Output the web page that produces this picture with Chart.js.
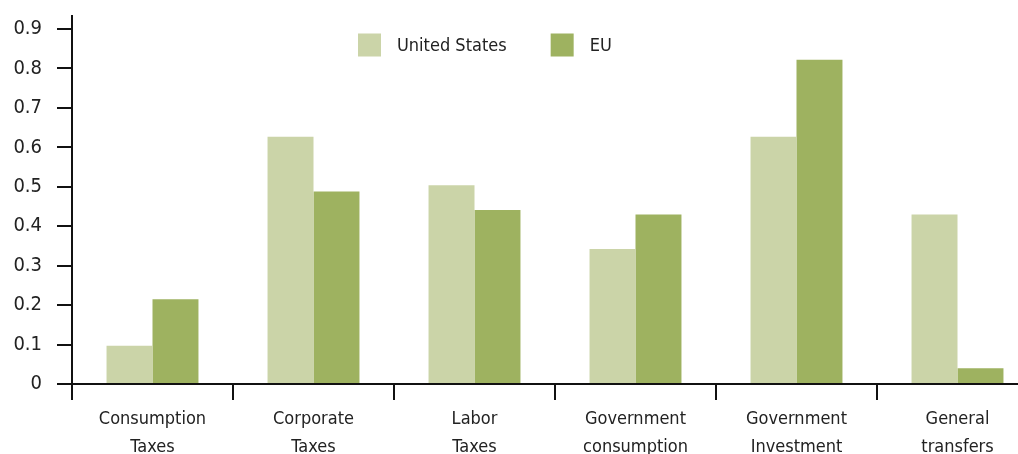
<!DOCTYPE html>
<html>
<head>
<meta charset="utf-8">
<script src="https://cdn.jsdelivr.net/npm/chart.js@4.4.0/dist/chart.umd.min.js"></script>
<style>
html,body{margin:0;padding:0;background:#fff;overflow:hidden;width:1018px;height:454px}
#wrap{width:1040px;height:454px;position:relative}
</style>
</head>
<body>
<div id="wrap"><canvas id="c" width="1040" height="454"></canvas></div>
<script>
// ---- data ----
const categories = [
  ['Consumption', 'Taxes'],
  ['Corporate', 'Taxes'],
  ['Labor', 'Taxes'],
  ['Government', 'consumption'],
  ['Government', 'Investment'],
  ['General', 'transfers']
];
const seriesNames = ['United States', 'EU'];
const usValues = [0.097, 0.627, 0.504, 0.342, 0.627, 0.43];
const euValues = [0.215, 0.488, 0.441, 0.43, 0.822, 0.04];
const yTickValues = [0, 0.1, 0.2, 0.3, 0.4, 0.5, 0.6, 0.7, 0.8, 0.9];
const yTickLabels = ['0', '0.1', '0.2', '0.3', '0.4', '0.5', '0.6', '0.7', '0.8', '0.9'];

// ---- style ----
const FONT = "'Liberation Sans Narrow','Arial Narrow','DejaVu Sans Condensed',sans-serif";
const TEXT = '#222222';
const AXIS = '#111111';
const US_COLOR = '#CBD4A8';
const EU_COLOR = '#9EB260';

const customLegend = {
  id: 'customLegend',
  afterDraw(chart) {
    const ctx = chart.ctx;
    ctx.save();
    ctx.font = '18px ' + FONT;
    ctx.textBaseline = 'middle';
    ctx.textAlign = 'left';
    let x = 358;
    const y = 45;
    const box = 23;
    chart.data.datasets.forEach(ds => {
      ctx.fillStyle = ds.backgroundColor;
      ctx.fillRect(x, y - box / 2, box, box);
      x += box + 16;
      ctx.fillStyle = TEXT;
      ctx.fillText(ds.label, x, y + 1);
      x += ctx.measureText(ds.label).width + 44;
    });
    ctx.restore();
  }
};

new Chart(document.getElementById('c'), {
  type: 'bar',
  data: {
    labels: categories,
    datasets: [
      { label: seriesNames[0], data: usValues, backgroundColor: US_COLOR, borderWidth: 0 },
      { label: seriesNames[1], data: euValues, backgroundColor: EU_COLOR, borderWidth: 0 }
    ]
  },
  options: {
    responsive: false,
    animation: false,
    devicePixelRatio: 1,
    layout: { padding: { top: 16, right: 2, left: 0, bottom: 0 } },
    categoryPercentage: 0.571,
    barPercentage: 1.0,
    plugins: {
      legend: { display: false },
      tooltip: { enabled: false },
      title: { display: false }
    },
    scales: {
      x: {
        offset: true,
        grid: {
          display: true,
          drawOnChartArea: false,
          drawTicks: true,
          offset: true,
          tickLength: 16,
          color: AXIS,
          lineWidth: 2
        },
        border: { display: true, color: AXIS, width: 2 },
        ticks: {
          color: TEXT,
          font: { family: FONT, size: 18, lineHeight: 1.55 },
          padding: 5,
          maxRotation: 0,
          minRotation: 0,
          autoSkip: false
        },
        afterFit(scale) { scale.height = 70; }
      },
      y: {
        min: 0,
        max: 0.933,
        afterBuildTicks(scale) { scale.ticks = yTickValues.map(v => ({ value: v })); },
        grid: {
          display: true,
          drawOnChartArea: false,
          drawTicks: true,
          tickLength: 15,
          color: AXIS,
          lineWidth: 2
        },
        border: { display: true, color: AXIS, width: 2 },
        ticks: {
          color: TEXT,
          font: { family: FONT, size: 20 },
          padding: 15,
          callback: (v, i) => yTickLabels[yTickValues.indexOf(Math.round(v * 10) / 10)]
        },
        afterFit(scale) { scale.width = 72; scale.paddingTop = 0; scale.paddingBottom = 0; }
      }
    }
  },
  plugins: [customLegend]
});
</script>
</body>
</html>
